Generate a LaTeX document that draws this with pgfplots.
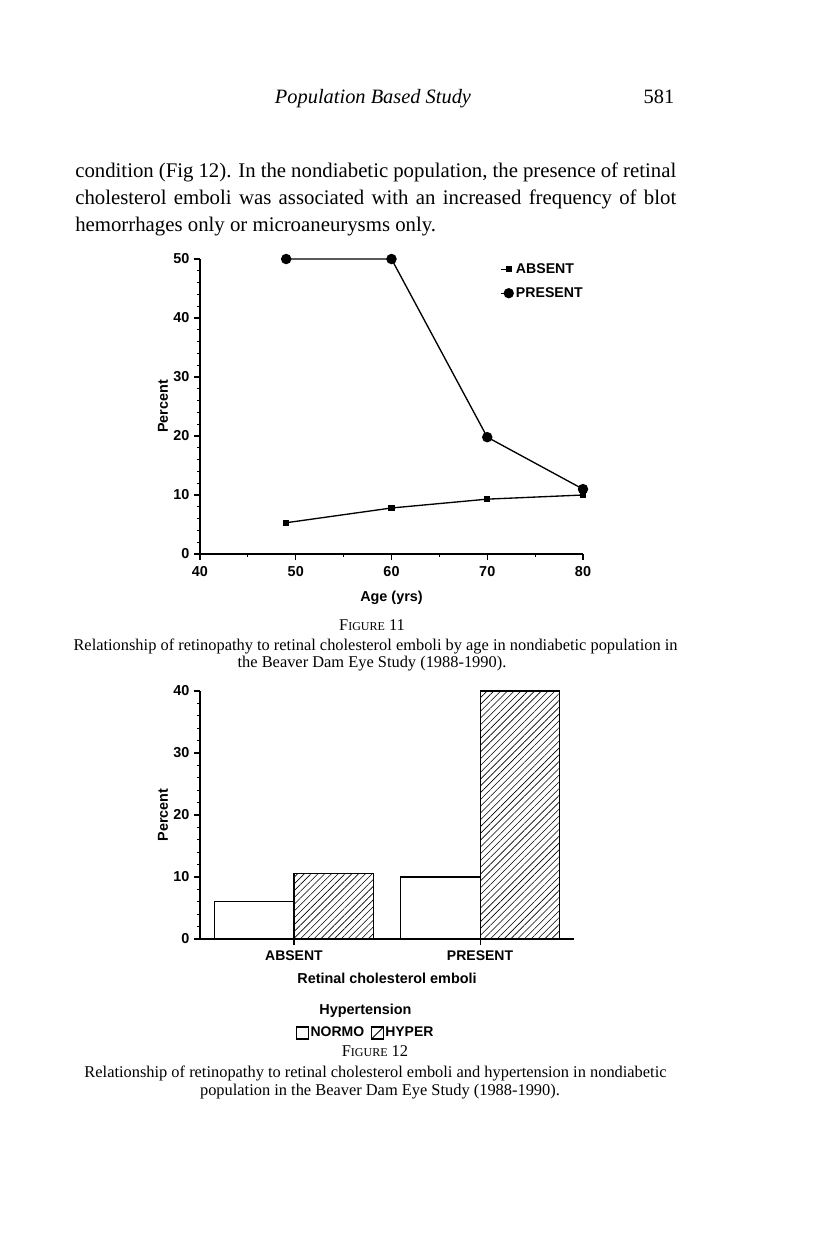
\documentclass[border=0pt]{standalone}
\usepackage{fontspec}
\setmainfont{Liberation Serif}
\setsansfont{Liberation Sans}
\usepackage{pgfplots}
\pgfplotsset{compat=1.18}
\usetikzlibrary{patterns.meta}

\newcommand\bodyfont{\fontsize{15.6}{18}\selectfont}
\newcommand\capfont{\fontsize{12.3}{14}\selectfont}
\newcommand\chartfont{\sffamily\bfseries\fontsize{10.8}{12}\selectfont}

\pgfplotsset{
  bdam/.style={
    scale only axis,
    axis lines=left,
    axis line style={-, line width=1pt},
    tick align=outside,
    major tick length=4.5pt,
    minor tick length=2.2pt,
    every tick/.style={black, line width=0.8pt},
    every minor tick/.style={black, line width=0.6pt},
    /pgf/number format/assume math mode=true,
    tick label style={font=\chartfont},
    xticklabel style={yshift=-1pt},
    label style={font=\chartfont},
  }
}

\begin{document}
\begin{tikzpicture}
\begin{scope}[x=0.75pt,y=-0.75pt]
\path[fill=white] (0,0) rectangle (816,1246);
\coordinate (O1) at (200,554);
\coordinate (O2) at (200,939);

% running head
\node[anchor=base, font=\fontsize{15.3}{17}\selectfont\itshape] at (373,103) {Population Based Study};
\node[anchor=base east, font=\fontsize{15.3}{17}\selectfont] at (679,103) {581};

% body text
\node[anchor=base west, inner sep=0pt, font=\bodyfont] at (75,177)
  {\makebox[450.75pt][s]{condition (Fig 12). In the nondiabetic population, the presence of retinal}};
\node[anchor=base west, inner sep=0pt, font=\bodyfont] at (75,204)
  {\makebox[450.75pt][s]{cholesterol emboli was associated with an increased frequency of blot}};
\node[anchor=base west, inner sep=0pt, font=\bodyfont] at (75,231)
  {hemorrhages only or microaneurysms only.};

% caption 11
\node[anchor=base, font=\capfont] at (372,630) {F{\fontsize{9}{11}\selectfont IGURE} 11};
\node[anchor=base, font=\capfont] at (375.5,650)
  {Relationship of retinopathy to retinal cholesterol emboli by age in nondiabetic population in};
\node[anchor=base, font=\capfont] at (372,667) {the Beaver Dam Eye Study (1988-1990).};

% caption 12
\node[anchor=base, font=\capfont] at (375,1056) {F{\fontsize{9}{11}\selectfont IGURE} 12};
\node[anchor=base, font=\capfont] at (375.5,1077)
  {Relationship of retinopathy to retinal cholesterol emboli and hypertension in nondiabetic};
\node[anchor=base, font=\capfont] at (380,1095) {population in the Beaver Dam Eye Study (1988-1990).};
\end{scope}

% Figure 11
\begin{axis}[bdam,
  at={(O1)}, anchor=south west,
  width=287.25pt, height=221.25pt,
  xmin=40, xmax=80, ymin=0, ymax=50,
  xtick={40,50,...,80}, ytick={0,10,...,50},
  minor x tick num=1, minor y tick num=4,
  clip=false,
  xlabel={Age (yrs)}, ylabel={Percent},
  xlabel style={at={(axis description cs:0.5,-0.149)}, anchor=center},
  ylabel style={at={(axis description cs:-0.0966,0.5)}, anchor=center},
  legend style={at={(0.783,0.995)}, anchor=north west, draw=none, fill=none,
    inner sep=0pt, row sep=5pt, font=\sffamily\bfseries\fontsize{10.6}{12}\selectfont,
    nodes={inner sep=2pt}},
  legend cell align=left,
  legend image code/.code={\draw[mark repeat=2,mark phase=2,#1,line width=0.9pt]
    plot coordinates {(0pt,0pt) (6pt,0pt)};},
]
\addplot[black, line width=1pt, mark=square*, mark size=1.9pt] coordinates {
  (49,5.3)(60,7.8)(70,9.3)(80,10.0)
};
\addlegendentry{ABSENT}
\addplot[black, line width=1pt, mark=*, mark size=3.4pt] coordinates {
  (49,50)(60,50)(70,19.8)(80,11.0)
};
\addlegendentry{PRESENT}
\end{axis}

% Figure 12
\begin{axis}[bdam,
  at={(O2)}, anchor=south west,
  width=280.5pt, height=186pt,
  xmin=-0.505, xmax=1.505, ymin=0, ymax=40,
  xtick={0,1}, xticklabels={ABSENT,PRESENT},
  ytick={0,10,...,40}, minor y tick num=4,
  clip=false,
  xticklabel style={font=\sffamily\bfseries\fontsize{10.5}{12}\selectfont},
  xlabel={Retinal cholesterol emboli}, ylabel={Percent},
  xlabel style={at={(axis description cs:0.5,-0.157)}, anchor=center},
  ylabel style={at={(axis description cs:-0.099,0.5)}, anchor=center},
  legend style={at={(axis description cs:0.4425,-0.379)}, anchor=center, draw=none, fill=none,
    legend columns=2, inner sep=0pt,
    font=\sffamily\bfseries\fontsize{10.5}{12}\selectfont,
    nodes={inner sep=1pt},
    /tikz/every even column/.style={column sep=4pt}},
]
\addplot[ybar, bar width=0.425, bar shift=-0.2125, draw=black, line width=0.8pt, fill=white,
  legend image code/.code={\draw[black, line width=0.8pt, fill=white] (0pt,-4.5pt) rectangle (9pt,4.5pt);}]
  coordinates {(0,6.1)(1,10.0)};
\addlegendentry{NORMO}
\addplot[ybar, bar width=0.425, bar shift=0.2125, draw=black, line width=0.8pt,
  pattern={Lines[angle=45,distance=3.6pt,line width=0.45pt]},
  legend image code/.code={\path[draw=black, fill=white, line width=0.8pt] (0pt,-4.5pt) rectangle (9pt,4.5pt);
    \path[draw=black, line width=0.7pt] (0pt,-4.5pt) -- (9pt,4.5pt);}]
  coordinates {(0,10.5)(1,40.0)};
\addlegendentry{HYPER}
\node[font=\chartfont] at (axis description cs:0.4425,-0.29) {Hypertension};
\end{axis}
\end{tikzpicture}
\end{document}
